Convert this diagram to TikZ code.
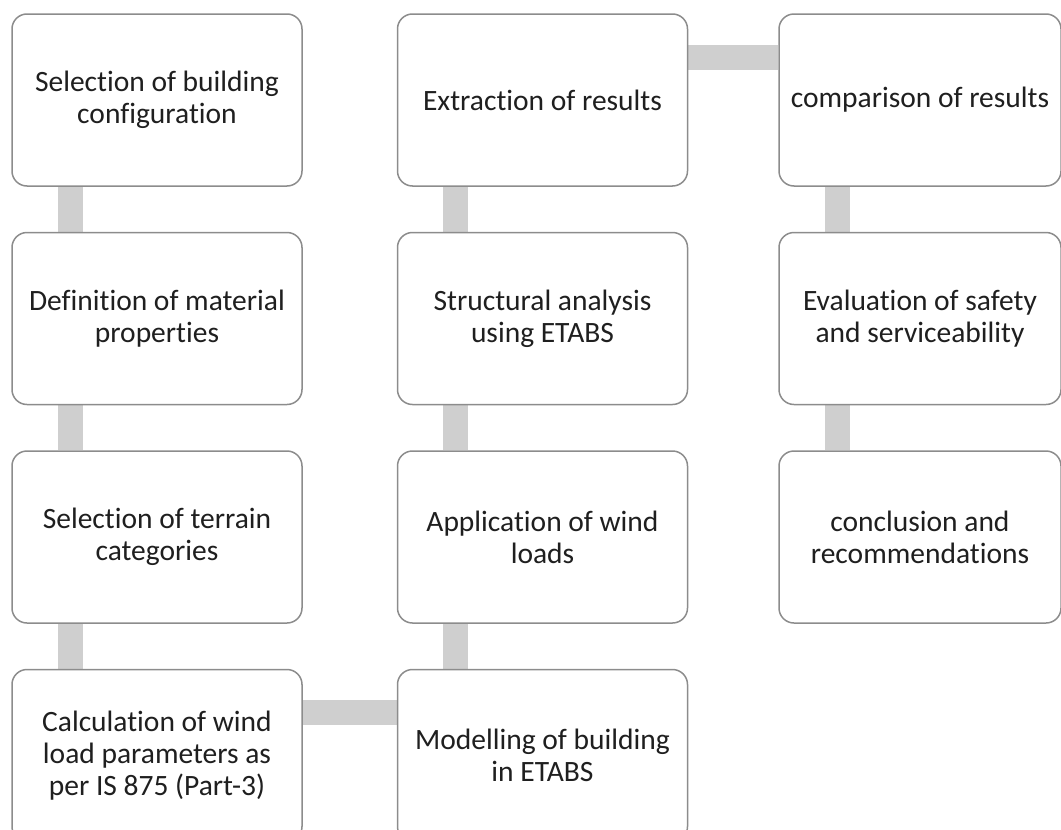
\documentclass[tikz,border=0pt]{standalone}
\usepackage{fontspec}
\setmainfont{Carlito}[Ligatures=NoCommon]
\usetikzlibrary{positioning,backgrounds}

\definecolor{boxline}{RGB}{140,140,140}
\definecolor{linkgray}{RGB}{207,207,207}

\begin{document}
\begin{tikzpicture}[%
    x=1pt, y=1pt,
    stage/.style={%
        draw=boxline,
        line width=1.5pt,
        fill=white,
        rounded corners=15pt,
        align=center,
        minimum width=290pt,
        minimum height=172pt,
        font=\fontsize{29.5}{32}\selectfont,
        text=black!88
    },
    link/.style={%
        draw=linkgray,
        line width=25pt
    },
    node distance=45pt and 94pt
]
\useasboundingbox (0,0) rectangle (1061,-830);

% Column 1
\node[stage] (config) at (157,-100) {Selection of building\\configuration};
\node[stage, below=of config] (material) {Definition of material\\properties};
\node[stage, below=of material] (terrain) {Selection of terrain\\categories};
\node[stage, below=of terrain] (windcalc) {Calculation of wind\\load parameters as\\per IS 875 (Part-3)};

% Column 2
\node[stage, right=of windcalc] (model) {Modelling of building\\in ETABS};
\node[stage, above=of model] (windload) {Application of wind\\loads};
\node[stage, above=of windload] (analysis) {Structural analysis\\using ETABS};
\node[stage, above=of analysis] (extract) {Extraction of results};

% Column 3
\node[stage, minimum width=282pt, right=of extract, xshift=-4pt] (compare) {comparison of results};
\node[stage, minimum width=282pt, below=of compare] (safety) {Evaluation of safety\\and serviceability};
\node[stage, minimum width=282pt, below=of safety] (conclusion) {conclusion and\\recommendations};

% Links
\begin{scope}[on background layer]
\draw[link] ([xshift=59pt]config.south west) -- ([xshift=59pt]material.north west);
\draw[link] ([xshift=59pt]material.south west) -- ([xshift=59pt]terrain.north west);
\draw[link] ([xshift=59pt]terrain.south west) -- ([xshift=59pt]windcalc.north west);
\draw[link] ([yshift=-44pt]windcalc.north east) -- ([yshift=-44pt]model.north west);
\draw[link] ([xshift=59pt]model.north west) -- ([xshift=59pt]windload.south west);
\draw[link] ([xshift=59pt]windload.north west) -- ([xshift=59pt]analysis.south west);
\draw[link] ([xshift=59pt]analysis.north west) -- ([xshift=59pt]extract.south west);
\draw[link] ([yshift=-44pt]extract.north east) -- ([yshift=-44pt]compare.north west);
\draw[link] ([xshift=59pt]compare.south west) -- ([xshift=59pt]safety.north west);
\draw[link] ([xshift=59pt]safety.south west) -- ([xshift=59pt]conclusion.north west);
\end{scope}

\end{tikzpicture}
\end{document}
